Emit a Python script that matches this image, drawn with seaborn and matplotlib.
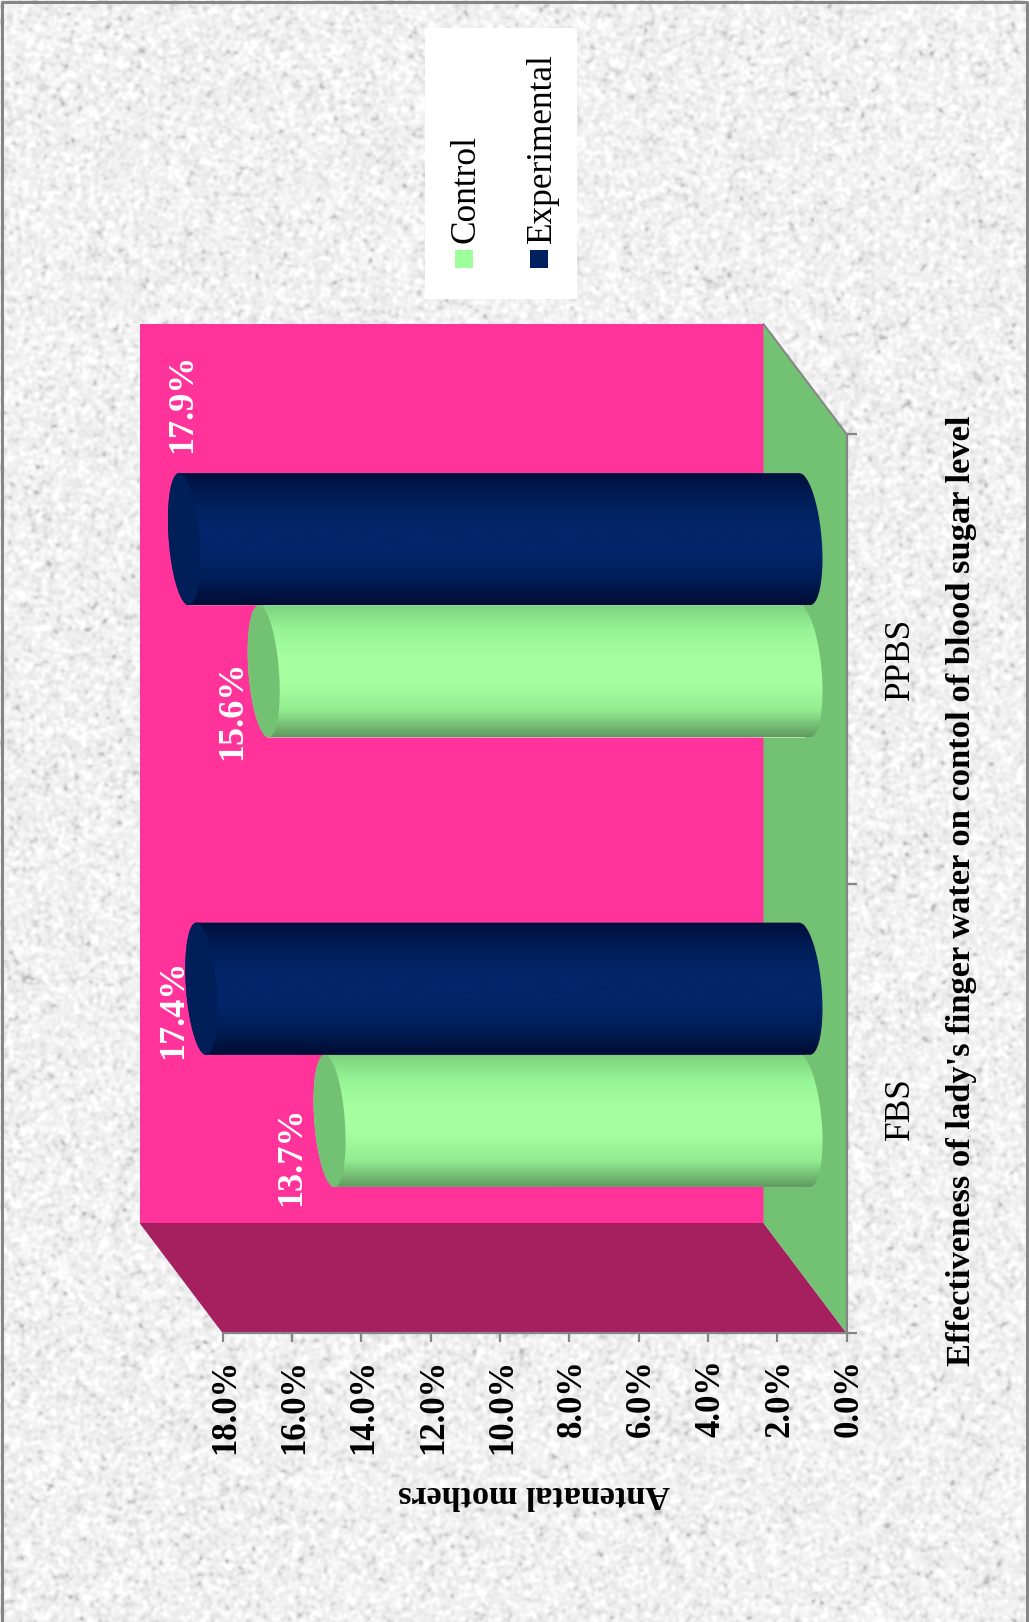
import numpy as np
import pandas as pd
import matplotlib
matplotlib.use("Agg")
import matplotlib.pyplot as plt
from matplotlib.patches import PathPatch, Polygon, Rectangle
from matplotlib.path import Path
from matplotlib.transforms import IdentityTransform, Affine2D
from matplotlib.colors import LinearSegmentedColormap
import seaborn as sns

# Study data
tests = ["PPBS", "FBS"]
groups = ["Experimental", "Control"]
experimental_pct = [17.9, 17.4]
control_pct = [15.6, 13.7]
value_ticks = [0, 2, 4, 6, 8, 10, 12, 14, 16, 18]
x_title = "Effectiveness of lady's finger water on contol of blood sugar level"
y_title = "Antenatal mothers"

W, H = 1029, 1622
sns.set_theme(style="white")
plt.rcParams["font.family"] = ["Liberation Serif", "DejaVu Serif"]

fig = plt.figure(figsize=(W / 100, H / 100), dpi=100)


def place(left, top, right, bottom, **kw):
    """Add axes from pixel edges measured from the top-left corner."""
    return fig.add_axes([left / W, 1 - bottom / H, (right - left) / W, (bottom - top) / H], **kw)


# Speckled paper backdrop
rng = np.random.default_rng(7)
raw = rng.normal(size=(H, W))
fy = np.fft.fftfreq(H)[:, None]
fx = np.fft.fftfreq(W)[None, :]
soft = np.fft.ifft2(np.fft.fft2(raw) * np.exp(-2 * (np.pi * 1.7) ** 2 * (fx ** 2 + fy ** 2))).real
soft /= soft.std()
paper = np.clip(240 + 7 * soft - 4 * np.clip(-soft - 0.8, 0, None) ** 2, 190, 255)

bg = place(0, 0, W, H, zorder=0)
bg.imshow(paper, cmap="gray", vmin=0, vmax=255, extent=(0, W, H, 0), aspect="auto", interpolation="bilinear")
bg.set_xticks([])
bg.set_yticks([])
for side in bg.spines.values():
    side.set_visible(False)
bg.plot([1.5, 1.5, W - 2, W - 2], [H, 2, 2, H], color="#858585", lw=2.2, solid_capstyle="butt")
bg.set_xlim(0, W)
bg.set_ylim(H, 0)

# Legend panel drawn upright against the sideways chart
legend_items = [("Control", "#9CFF9C", 463.5), ("Experimental", "#00205F", 539)]
bg.add_patch(Rectangle((425, 28), 152, 271, fc="white", ec="none"))
for name, colour, xc in legend_items:
    bg.add_patch(Rectangle((xc - 9, 250), 18, 18, fc=colour, ec="none"))
    bg.text(xc + 3, 243, name, rotation=90, ha="center", va="bottom", fontsize=25.4, color="black")

# Front plane of the 3-D box: carries both axes
GRID = "#858585"
front = place(222.5, 434, 846.5, 1333, zorder=1)
front.patch.set_visible(False)
front.set_xlim(18, 0)
front.set_ylim(1.5, -0.5)
front.set_xticks(value_ticks, [f"{v:.1f}%" for v in value_ticks])
front.tick_params(axis="x", bottom=True, length=6.5, width=1.6, color=GRID, pad=12.3, labelrotation=90,
                  labelsize=25, labelcolor="black")
for lab in front.get_xticklabels():
    lab.set_fontweight("bold")
    lab.set_transform(lab.get_transform() + Affine2D().translate(3, 0))
front.yaxis.tick_right()
front.set_yticks([-0.5, 0.5, 1.5], minor=True)
front.set_yticks([0, 1], tests, rotation=90, va="center", fontsize=25.4, color="black")
front.tick_params(axis="y", which="major", length=0, pad=27)
front.tick_params(axis="y", which="minor", right=True, length=7, width=1.6, color=GRID)
for name, sp in front.spines.items():
    sp.set_visible(name in ("bottom", "right"))
    sp.set_color(GRID)
    sp.set_linewidth(1.6)
front.set_xlabel(y_title, rotation=180, fontsize=24.6, fontweight="bold", color="black", labelpad=18)
front.yaxis.set_label_position("right")
front.set_ylabel(x_title, rotation=90, fontsize=24.8, fontweight="bold", color="black", labelpad=21)
front.yaxis.label.set_verticalalignment("top")
front.yaxis.label.set_y(0.492)

fig.canvas.draw()

# Box walls, projected from the front plane
DX, DY = -83.0, 110.0


def project(v, c, depth):
    px = front.transData.transform((v, c))
    return (px[0] + DX * depth, px[1] + DY * depth)


wall_specs = [
    ("#FF3399", [(0, -0.5, 1), (18, -0.5, 1), (18, 1.5, 1), (0, 1.5, 1)]),
    ("#A62060", [(0, 1.5, 1), (18, 1.5, 1), (18, 1.5, 0), (0, 1.5, 0)]),
    ("#73C173", [(0, -0.5, 1), (0, 1.5, 1), (0, 1.5, 0), (0, -0.5, 0)]),
]
for colour, corners in wall_specs:
    front.add_patch(Polygon([project(*p) for p in corners], closed=True, fc=colour, ec="none",
                            transform=IdentityTransform(), clip_on=False, zorder=0.5))
edge = np.array([project(0, -0.5, 1), project(0, -0.5, 0)])
front.plot(edge[:, 0], edge[:, 1], color=GRID, lw=1.4, transform=IdentityTransform(), clip_on=False, zorder=0.6)

# Bars sit halfway into the box
bars_ax = place(180.5, 380.5, 804.5, 1279.5, zorder=2)
bars_ax.patch.set_visible(False)
frame = pd.DataFrame({
    "test": tests * 2,
    "group": [groups[0]] * 2 + [groups[1]] * 2,
    "pct": experimental_pct + control_pct,
})
sns.barplot(data=frame, y="test", x="pct", hue="group", order=tests, hue_order=groups, orient="h",
            palette={"Experimental": "#03256A", "Control": "#A5FFA0"}, width=0.588, saturation=1,
            legend=False, ax=bars_ax)
bars_ax.set_xlim(18, 0)
bars_ax.set_ylim(1.5, -0.5)
bars_ax.axis("off")

shading = {
    "Experimental": LinearSegmentedColormap.from_list("navy", ["#000F3C", "#001E58", "#03256A", "#03256A", "#001E58", "#000C34"]),
    "Control": LinearSegmentedColormap.from_list("mint", ["#7CD27C", "#97F597", "#A5FFA0", "#A5FFA0", "#93EC90", "#5F9A5F"]),
}
cap_colour = {"Experimental": "#001E58", "Control": "#73C173"}

# Offsets of each value label from the end of its bar, in pixels
label_shift = {
    ("Experimental", "PPBS"): (-1, 136),
    ("Experimental", "FBS"): (-28, -21),
    ("Control", "PPBS"): (-31, -39),
    ("Control", "FBS"): (-38, -35),
}

CAP_V = 16.0 / 34.67   # half depth of the end caps, in percentage points
BASE_V = 18.0 / 34.67  # the far end bulges slightly more
TILT = 0.3

for order, (group, container) in enumerate(zip(groups, bars_ax.containers)):
    z = 4 - order
    for test, bar in zip(tests, container):
        value = bar.get_width()
        y0, h = bar.get_y(), bar.get_height()
        cy = y0 + h / 2
        R = h / 2
        k = TILT * R
        b = np.sqrt(R ** 2 - k ** 2)
        t_top = np.arctan2(-b, k)

        def rim(v, t, depth=CAP_V):
            return np.column_stack([v + depth * np.cos(t), cy + b * np.sin(t) - k * np.cos(t)])

        base_t = np.linspace(t_top, t_top - np.pi, 80)
        cap_t = np.linspace(t_top - np.pi, t_top - 2 * np.pi, 80)
        outline = Path(np.vstack([rim(0, base_t, BASE_V), rim(value, cap_t), rim(0, base_t[:1], BASE_V)]), closed=False)
        body = PathPatch(outline, transform=bars_ax.transData, fc="none", ec="none")
        bars_ax.add_patch(body)
        body.set_clip_on(False)

        bar.set_clip_path(body)
        bar.set_zorder(z - 0.5)
        fade = bars_ax.imshow(np.linspace(0, 1, 256)[:, None], cmap=shading[group], aspect="auto",
                              extent=(-2 * CAP_V, value + 2 * CAP_V, y0 + h, y0), zorder=z)
        fade.set_clip_box(fig.bbox)
        fade.set_clip_path(body)

        whole = np.linspace(0, 2 * np.pi, 120)
        bars_ax.add_patch(Polygon(rim(value, whole), closed=True, fc=cap_colour[group], ec="none",
                                  zorder=z + 0.2, clip_on=False))
        bars_ax.annotate(f"{value:.1f}%", xy=(value, cy), xytext=label_shift[(group, test)],
                         textcoords="offset pixels", rotation=90, ha="center", va="center",
                         fontsize=26, fontweight="bold", color="white", zorder=8, annotation_clip=False)

bars_ax.set_xlim(18, 0)
bars_ax.set_ylim(1.5, -0.5)

fig.savefig("out.png", dpi=100)
